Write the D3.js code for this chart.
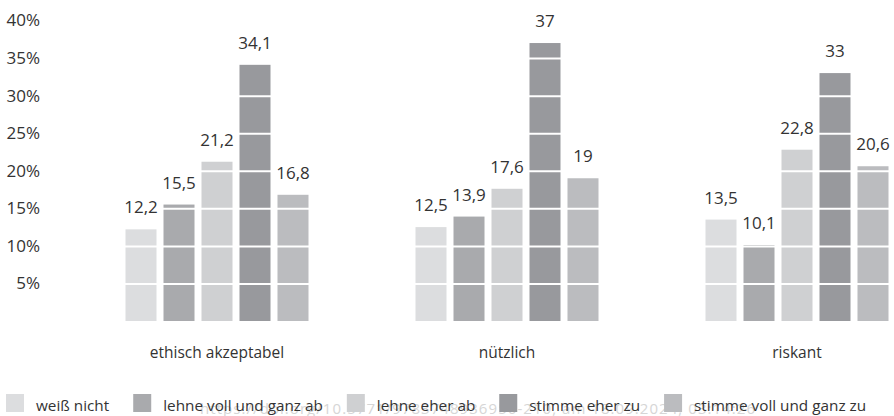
<!DOCTYPE html>
<html>
<head>
<meta charset="utf-8">
<script src="https://cdn.jsdelivr.net/npm/d3@7"></script>
<style>
  body { margin: 0; background: #fff; }
  svg text { font-family: "Open Sans", sans-serif; fill: #333; }
</style>
</head>
<body>
<svg width="894" height="416"></svg>
<script>
var categories = ["ethisch akzeptabel", "nützlich", "riskant"];
var seriesNames = ["weiß nicht", "lehne voll und ganz ab", "lehne eher ab", "stimme eher zu", "stimme voll und ganz zu"];
var weissNicht = [12.2, 12.5, 13.5];
var lehneVoll = [15.5, 13.9, 10.1];
var lehneEher = [21.2, 17.6, 22.8];
var stimmeEher = [34.1, 37, 33];
var stimmeVoll = [16.8, 19, 20.6];
var yTicks = [5, 10, 15, 20, 25, 30, 35, 40];
var colors = ["#dcdddf", "#a9aaad", "#cfd0d2", "#98999d", "#bbbcbf"];

var seriesValues = [weissNicht, lehneVoll, lehneEher, stimmeEher, stimmeVoll];

var svg = d3.select("svg");
var x0 = d3.scaleBand().domain(categories).range([72, 942]);
var x1 = d3.scaleBand().domain(seriesNames).range([-91.5, 91.5]).paddingInner(0.184);
var y = d3.scaleLinear().domain([0, 40]).range([321, 20.5]);

// one row per category
var rows = categories.map(function(c, i) {
  return { cat: c, vals: seriesNames.map(function(s, j) { return { name: s, value: seriesValues[j][i], idx: j }; }) };
});

var groups = svg.append("g").selectAll("g")
  .data(rows)
  .enter().append("g")
  .attr("transform", function(d) { return "translate(" + (x0(d.cat) + x0.bandwidth() / 2) + ",0)"; });

groups.selectAll("rect")
  .data(function(d) { return d.vals; })
  .enter().append("rect")
  .attr("x", function(d) { return x1(d.name); })
  .attr("width", x1.bandwidth())
  .attr("y", function(d) { return y(d.value); })
  .attr("height", function(d) { return y(0) - y(d.value); })
  .attr("fill", function(d) { return colors[d.idx]; });

// white grid lines over the bars
svg.append("g")
  .attr("transform", "translate(894,0)")
  .call(d3.axisLeft(y).tickValues(yTicks.slice(0, -1)).tickSize(894 - 50).tickFormat(""))
  .call(function(g) { g.select(".domain").remove(); })
  .selectAll("line")
  .attr("stroke", "#fff")
  .attr("stroke-width", 2);

// value labels (on top of grid)
svg.append("g").selectAll("g")
  .data(rows)
  .enter().append("g")
  .attr("transform", function(d) { return "translate(" + (x0(d.cat) + x0.bandwidth() / 2) + ",0)"; })
  .selectAll("text")
  .data(function(d) { return d.vals; })
  .enter().append("text")
  .attr("x", function(d) { return x1(d.name) + x1.bandwidth() / 2; })
  .attr("y", function(d) { return y(d.value) - 16; })
  .attr("text-anchor", "middle")
  .style("font-size", "17px")
  .text(function(d) { return String(d.value).replace(".", ","); });

// y axis labels
var yAxis = svg.append("g")
  .attr("transform", "translate(40,0)")
  .call(d3.axisLeft(y).tickValues(yTicks).tickSize(0).tickPadding(0).tickFormat(function(d) { return d + "%"; }));
yAxis.select(".domain").remove();
yAxis.selectAll("text")
  .style("font-family", "'Open Sans', sans-serif")
  .style("font-size", "17px")
  .attr("fill", "#333");

// category labels
svg.append("g").selectAll("text")
  .data(categories)
  .enter().append("text")
  .attr("x", function(d) { return x0(d) + x0.bandwidth() / 2; })
  .attr("y", 358)
  .attr("text-anchor", "middle")
  .style("font-size", "15.5px")
  .text(function(d) { return d; });

// faint watermark from the source scan, behind the legend
svg.append("text")
  .attr("x", 200).attr("y", 414)
  .style("font-size", "15px")
  .style("fill", "#d6d6d6")
  .attr("textLength", 555)
  .text("https://doi.org/10.5771/9783748936956-210, am 18.09.2024, 03:14:26");

// legend
var legend = svg.append("g");
var lx = 6;
seriesNames.forEach(function(s, i) {
  legend.append("rect")
    .attr("x", lx).attr("y", 394)
    .attr("width", 18).attr("height", 18)
    .attr("fill", colors[i]);
  var t = legend.append("text")
    .attr("x", lx + 30).attr("y", 411)
    .style("font-size", "15.3px")
    .text(s);
  lx += 30 + t.node().getComputedTextLength() + 24;
});
</script>
</body>
</html>
